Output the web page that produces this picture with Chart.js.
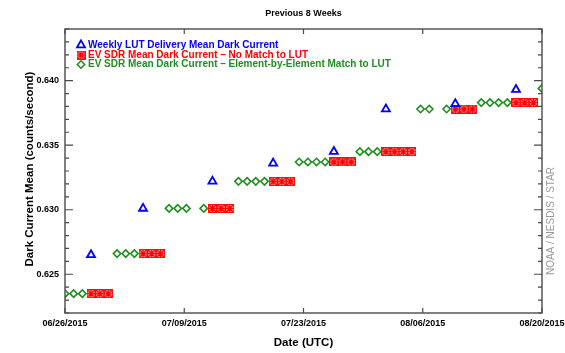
<!DOCTYPE html>
<html>
<head>
<meta charset="utf-8">
<script src="https://cdn.jsdelivr.net/npm/chart.js@4.4.0/dist/chart.umd.min.js"></script>
<style>
  html, body { margin: 0; padding: 0; background: #ffffff; }
  #wrap { width: 565px; height: 353px; }
</style>
</head>
<body>
<div id="wrap"><canvas id="chart" width="565" height="353"></canvas></div>
<script>
// Day offsets are counted from 06/26/2015; the axis runs 55 days to 08/20/2015
// and is split into four equal intervals.
const xTickLabels = ['06/26/2015', '07/09/2015', '07/23/2015', '08/06/2015', '08/20/2015'];
const yTickValues = [0.625, 0.630, 0.635, 0.640];

// Weekly LUT delivery mean dark current
const lutDays   = [3, 9, 17, 24, 31, 37, 45, 52];
const lutValues = [0.6265, 0.6301, 0.6322, 0.6336, 0.6345, 0.6378, 0.6382, 0.6393];

// EV SDR mean dark current, no match to LUT
const noMatchDays   = [3, 4, 5, 9, 10, 11, 17, 18, 19, 24, 25, 26, 31, 32, 33, 37, 38, 39, 40, 45, 46, 47, 52, 53, 54];
const noMatchValues = [0.6235, 0.6235, 0.6235, 0.6266, 0.6266, 0.6266, 0.6301, 0.6301, 0.6301,
                       0.6322, 0.6322, 0.6322, 0.6337, 0.6337, 0.6337, 0.6345, 0.6345, 0.6345, 0.6345,
                       0.6378, 0.6378, 0.6378, 0.6383, 0.6383, 0.6383];

// EV SDR mean dark current, element-by-element match to LUT
const matchDays   = [0, 1, 2, 6, 7, 8, 12, 13, 14, 16, 20, 21, 22, 23, 27, 28, 29, 30, 34, 35, 36, 41, 42, 44, 48, 49, 50, 51, 55];
const matchValues = [0.6235, 0.6235, 0.6235, 0.6266, 0.6266, 0.6266, 0.6301, 0.6301, 0.6301, 0.6301,
                     0.6322, 0.6322, 0.6322, 0.6322, 0.6337, 0.6337, 0.6337, 0.6337, 0.6345, 0.6345, 0.6345,
                     0.6378, 0.6378, 0.6378, 0.6383, 0.6383, 0.6383, 0.6383, 0.6394];

const X_MIN = 0;
const X_MAX = 55;
const Y_MIN = 0.622;
const Y_MAX = 0.644;

const FONT = '"Liberation Sans", Arial, Helvetica, sans-serif';
const BLUE = '#0000ff';
const RED = '#ff0000';
const GREEN = '#1f8f1f';

function pairs(xs, ys) {
  return xs.map((x, i) => ({ x: x, y: ys[i] }));
}

// Boxed asterisk marker for the "no match" series
function makeBoxStar() {
  const c = document.createElement('canvas');
  c.width = 9; c.height = 9;
  const g = c.getContext('2d');
  g.strokeStyle = RED;
  g.lineWidth = 1.1;
  g.strokeRect(0.6, 0.6, 7.8, 7.8);
  g.lineWidth = 1.5;
  g.beginPath();
  g.moveTo(0.8, 0.8); g.lineTo(8.2, 8.2);
  g.moveTo(8.2, 0.8); g.lineTo(0.8, 8.2);
  g.moveTo(4.5, 0.8); g.lineTo(4.5, 8.2);
  g.moveTo(0.8, 4.5); g.lineTo(8.2, 4.5);
  g.stroke();
  return c;
}
const boxStar = makeBoxStar();

const xTickValues = xTickLabels.map((_, i) => X_MIN + (X_MAX - X_MIN) * i / (xTickLabels.length - 1));

const frameAndText = {
  id: 'frameAndText',
  beforeDraw(chart) {
    const ctx = chart.ctx;
    ctx.save();
    ctx.fillStyle = '#ffffff';
    ctx.fillRect(0, 0, chart.width, chart.height);
    ctx.restore();
  },
  afterDraw(chart) {
    const ctx = chart.ctx;
    const a = chart.chartArea;
    const xs = chart.scales.x;
    const ys = chart.scales.y;
    ctx.save();

    // plot frame
    ctx.strokeStyle = '#4a4a4a';
    ctx.lineWidth = 1.4;
    ctx.strokeRect(a.left, a.top, a.right - a.left, a.bottom - a.top);

    // inward tick marks on all four sides
    ctx.lineWidth = 1.2;
    ctx.beginPath();
    for (let k = 0; k <= 22; k++) {
      const v = Y_MIN + k * 0.001;
      const py = ys.getPixelForValue(v);
      const major = yTickValues.some(t => Math.abs(t - v) < 1e-7);
      const len = major ? 8 : 4;
      ctx.moveTo(a.left, py); ctx.lineTo(a.left + len, py);
      ctx.moveTo(a.right, py); ctx.lineTo(a.right - len, py);
    }
    xs.ticks.forEach(t => {
      const px = xs.getPixelForValue(t.value);
      ctx.moveTo(px, a.bottom); ctx.lineTo(px, a.bottom - 5);
      ctx.moveTo(px, a.top); ctx.lineTo(px, a.top + 5);
    });
    ctx.stroke();

    // chart title
    ctx.fillStyle = '#000000';
    ctx.textAlign = 'center';
    ctx.textBaseline = 'middle';
    ctx.font = 'bold 9px ' + FONT;
    ctx.fillText('Previous 8 Weeks', (a.left + a.right) / 2, 14);

    // axis titles
    ctx.font = 'bold 11.5px ' + FONT;
    ctx.fillText('Date (UTC)', (a.left + a.right) / 2, 343);
    ctx.save();
    ctx.translate(29.5, 169);
    ctx.rotate(-Math.PI / 2);
    ctx.fillText('Dark Current Mean (counts/second)', 0, 0);
    ctx.restore();

    // credit line
    ctx.save();
    ctx.translate(551, 221);
    ctx.rotate(-Math.PI / 2);
    ctx.font = '10px ' + FONT;
    ctx.fillStyle = '#9a9a9a';
    ctx.fillText('NOAA / NESDIS / STAR', 0, 0);
    ctx.restore();

    // legend inside the plot
    ctx.textAlign = 'left';
    ctx.font = 'bold 10px ' + FONT;
    const rows = [45, 55, 64.5];
    chart.data.datasets.forEach((ds, i) => {
      const y = rows[i];
      ctx.save();
      ctx.strokeStyle = ds.pointBorderColor;
      ctx.fillStyle = 'rgba(0,0,0,0)';
      ctx.lineWidth = ds.pointBorderWidth;
      Chart.helpers.drawPoint(ctx, {
        pointStyle: ds.pointStyle,
        radius: ds.pointRadius,
        borderWidth: ds.pointBorderWidth,
        rotation: 0
      }, 81, y);
      ctx.restore();
      ctx.fillStyle = ds.textColor;
      ctx.fillText(ds.label, 88, y);
    });

    ctx.restore();
  }
};

new Chart(document.getElementById('chart'), {
  type: 'scatter',
  data: {
    datasets: [
      {
        label: 'Weekly LUT Delivery Mean Dark Current',
        data: pairs(lutDays, lutValues),
        pointStyle: 'triangle',
        pointRadius: 4.6,
        pointBorderWidth: 1.8,
        pointBorderColor: BLUE,
        pointBackgroundColor: 'rgba(0,0,0,0)',
        textColor: BLUE,
        showLine: false,
        clip: 0
      },
      {
        label: 'EV SDR Mean Dark Current \u2013 No Match to LUT',
        data: pairs(noMatchDays, noMatchValues),
        pointStyle: boxStar,
        pointRadius: 4,
        pointBorderWidth: 1.2,
        pointBorderColor: RED,
        pointBackgroundColor: RED,
        textColor: RED,
        showLine: false,
        clip: 0
      },
      {
        label: 'EV SDR Mean Dark Current \u2013 Element-by-Element Match to LUT',
        data: pairs(matchDays, matchValues),
        pointStyle: 'rectRot',
        pointRadius: 3.7,
        pointBorderWidth: 1.6,
        pointBorderColor: GREEN,
        pointBackgroundColor: 'rgba(0,0,0,0)',
        textColor: GREEN,
        showLine: false,
        clip: 0
      }
    ]
  },
  options: {
    responsive: false,
    animation: false,
    devicePixelRatio: 1,
    layout: { padding: { top: 29, right: 23, left: 0, bottom: 0 } },
    plugins: {
      legend: { display: false },
      title: { display: false },
      tooltip: { enabled: false }
    },
    scales: {
      x: {
        type: 'linear',
        min: X_MIN,
        max: X_MAX,
        grid: { display: false, drawTicks: false },
        border: { display: false },
        afterBuildTicks: s => { s.ticks = xTickValues.map(v => ({ value: v })); },
        afterFit: s => { s.height = 40; s.paddingLeft = 0; s.paddingRight = 0; },
        ticks: {
          autoSkip: false,
          maxRotation: 0,
          padding: 5,
          color: '#000000',
          font: { family: FONT, size: 9, weight: 'bold' },
          callback: (v, i) => xTickLabels[i]
        }
      },
      y: {
        type: 'linear',
        min: Y_MIN,
        max: Y_MAX,
        grid: { display: false, drawTicks: false },
        border: { display: false },
        afterBuildTicks: s => { s.ticks = yTickValues.map(v => ({ value: v })); },
        afterFit: s => { s.width = 65; s.paddingTop = 0; s.paddingBottom = 0; },
        ticks: {
          padding: 6,
          color: '#000000',
          font: { family: FONT, size: 9, weight: 'bold' },
          callback: v => v.toFixed(3)
        }
      }
    }
  },
  plugins: [frameAndText]
});
</script>
</body>
</html>
